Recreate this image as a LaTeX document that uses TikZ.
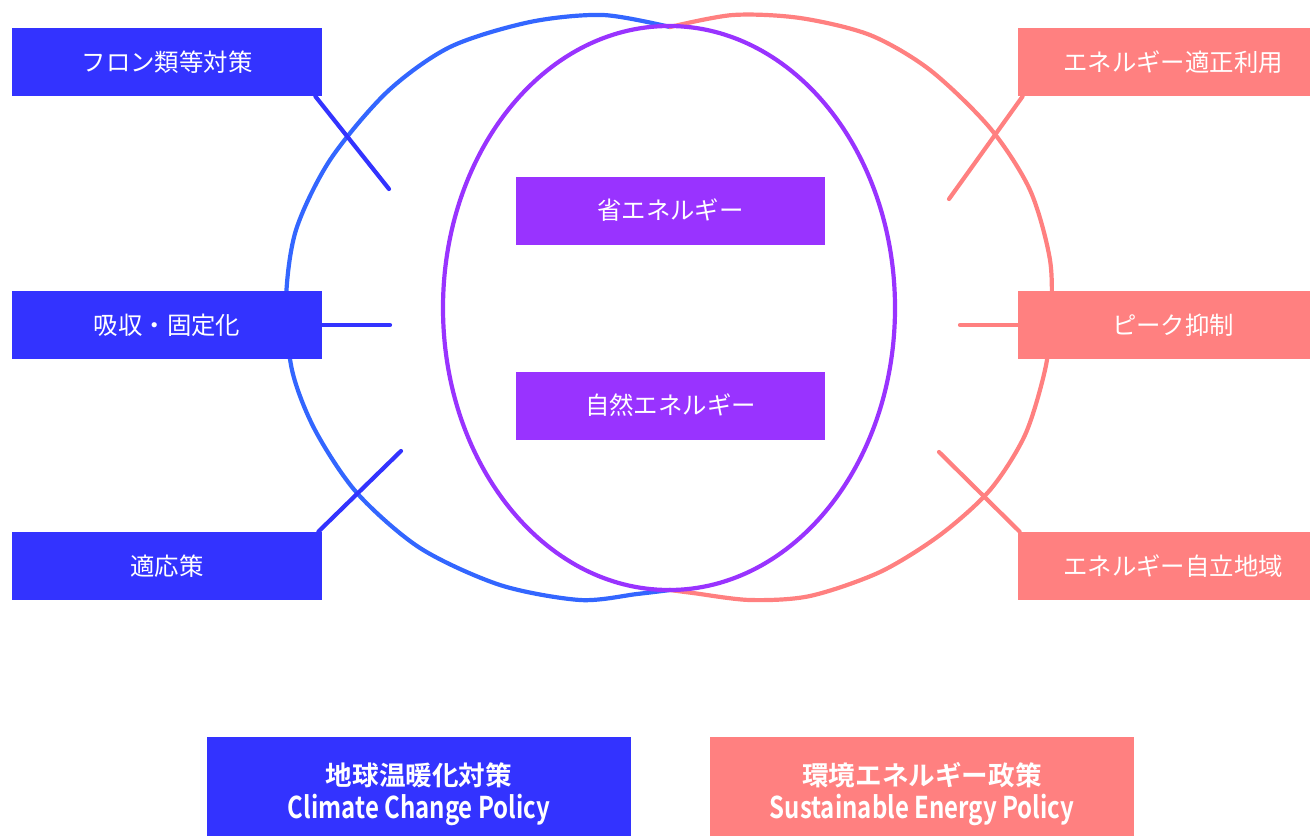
\documentclass[tikz,border=0pt]{standalone}
\usepackage{fontspec}
\setmainfont{Noto Sans CJK JP}[BoldFont={Noto Sans CJK JP Bold}]
\usetikzlibrary{positioning}

\begin{document}
\begin{tikzpicture}[x=0.5pt, y=-0.5pt, line cap=round, font=\fontsize{12.2}{14}\selectfont]
%====Colori==================================================================
	\definecolor{policyblue}{RGB}{51,51,255}
	\definecolor{ringblue}{RGB}{51,102,255}
	\definecolor{policyred}{RGB}{255,128,128}
	\definecolor{overlap}{RGB}{153,51,255}
%====Stili riquadri e linee==================================================
	\tikzstyle{box}=[rectangle, text=white, minimum width=155pt, minimum height=34pt, inner sep=0pt]
	\tikzstyle{bluebox}=[box, fill=policyblue]
	\tikzstyle{redbox}=[box, fill=policyred]
	\tikzstyle{midbox}=[box, fill=overlap, minimum width=154.5pt]
	\tikzstyle{policy}=[rectangle, text=white, minimum width=212pt, minimum height=57pt, inner sep=0pt, align=center, font=\bfseries\fontsize{13.3}{16.5}\selectfont]
	\tikzstyle{ring}=[line width=2.1pt]
	\tikzstyle{link}=[line width=2.1pt]
	\useasboundingbox (0,0) rectangle (1310,835);
	\clip (0,0) rectangle (1310,835);
%====Cerchi===================================================================
	\draw[ring, ringblue] plot[smooth] coordinates {(670,27) (603,15) (530,22) (450,47) (387,92) (330,160) (296,230) (286,300) (292,370) (315,430) (357,493) (420,548) (500,585) (580,600) (637,594) (670,590)};
	\draw[ring, policyred] plot[smooth] coordinates {(670,27) (733,15) (800,18) (870,35) (930,70) (990,128) (1030,190) (1050,260) (1051,320) (1045,370) (1025,435) (990,490) (940,535) (880,572) (810,596) (750,600) (693,593) (670,590)};
	\draw[ring, overlap] (669,308) ellipse [x radius=113pt, y radius=141pt];
%====Riquadri=================================================================
	\node[bluebox]	(fron)		at (167,62)		{フロン類等対策};
	\node[bluebox]	(kyushu)	at (167,325)	{吸収・固定化};
	\node[bluebox]	(tekio)		at (167,566)	{適応策};
	\node[redbox]	(tekisei)	at (1173,62)	{エネルギー適正利用};
	\node[redbox]	(peak)		at (1173,325)	{ピーク抑制};
	\node[redbox]	(jiritsu)	at (1173,566)	{エネルギー自立地域};
	\node[midbox]	(shoene)	at (670.5,210.5)	{省エネルギー};
	\node[midbox]	(shizen)	at (670.5,405.5)	{自然エネルギー};
	\node[policy, fill=policyblue]	(climate)	at (419,794)	{地球温暖化対策\\{\fontsize{15}{16}\selectfont\scalebox{0.8}[1]{Climate Change Policy}}};
	\node[policy, fill=policyred]	(energy)	at (922,794)	{環境エネルギー政策\\{\fontsize{15}{16}\selectfont\scalebox{0.8}[1]{Sustainable Energy Policy}}};
%====Collegamenti==============================================================
	\coordinate (fronend)		at (389,189);
	\coordinate (kyushuend)	at (390,325);
	\coordinate (tekioend)		at (401,451);
	\coordinate (tekiseiend)	at (949,199);
	\coordinate (peakend)		at (960,325);
	\coordinate (jiritsuend)	at (939,452);
	\draw[link, policyblue]	([xshift=-3.5pt]fron.south east)	-- (fronend);
	\draw[link, policyblue]	(kyushu.east)					-- (kyushuend);
	\draw[link, policyblue]	([xshift=-2pt]tekio.north east)	-- (tekioend);
	\draw[link, policyred]	([xshift=2.5pt]tekisei.south west)	-- (tekiseiend);
	\draw[link, policyred]	(peak.west)						-- (peakend);
	\draw[link, policyred]	([xshift=1pt]jiritsu.north west)	-- (jiritsuend);
\end{tikzpicture}
\end{document}
